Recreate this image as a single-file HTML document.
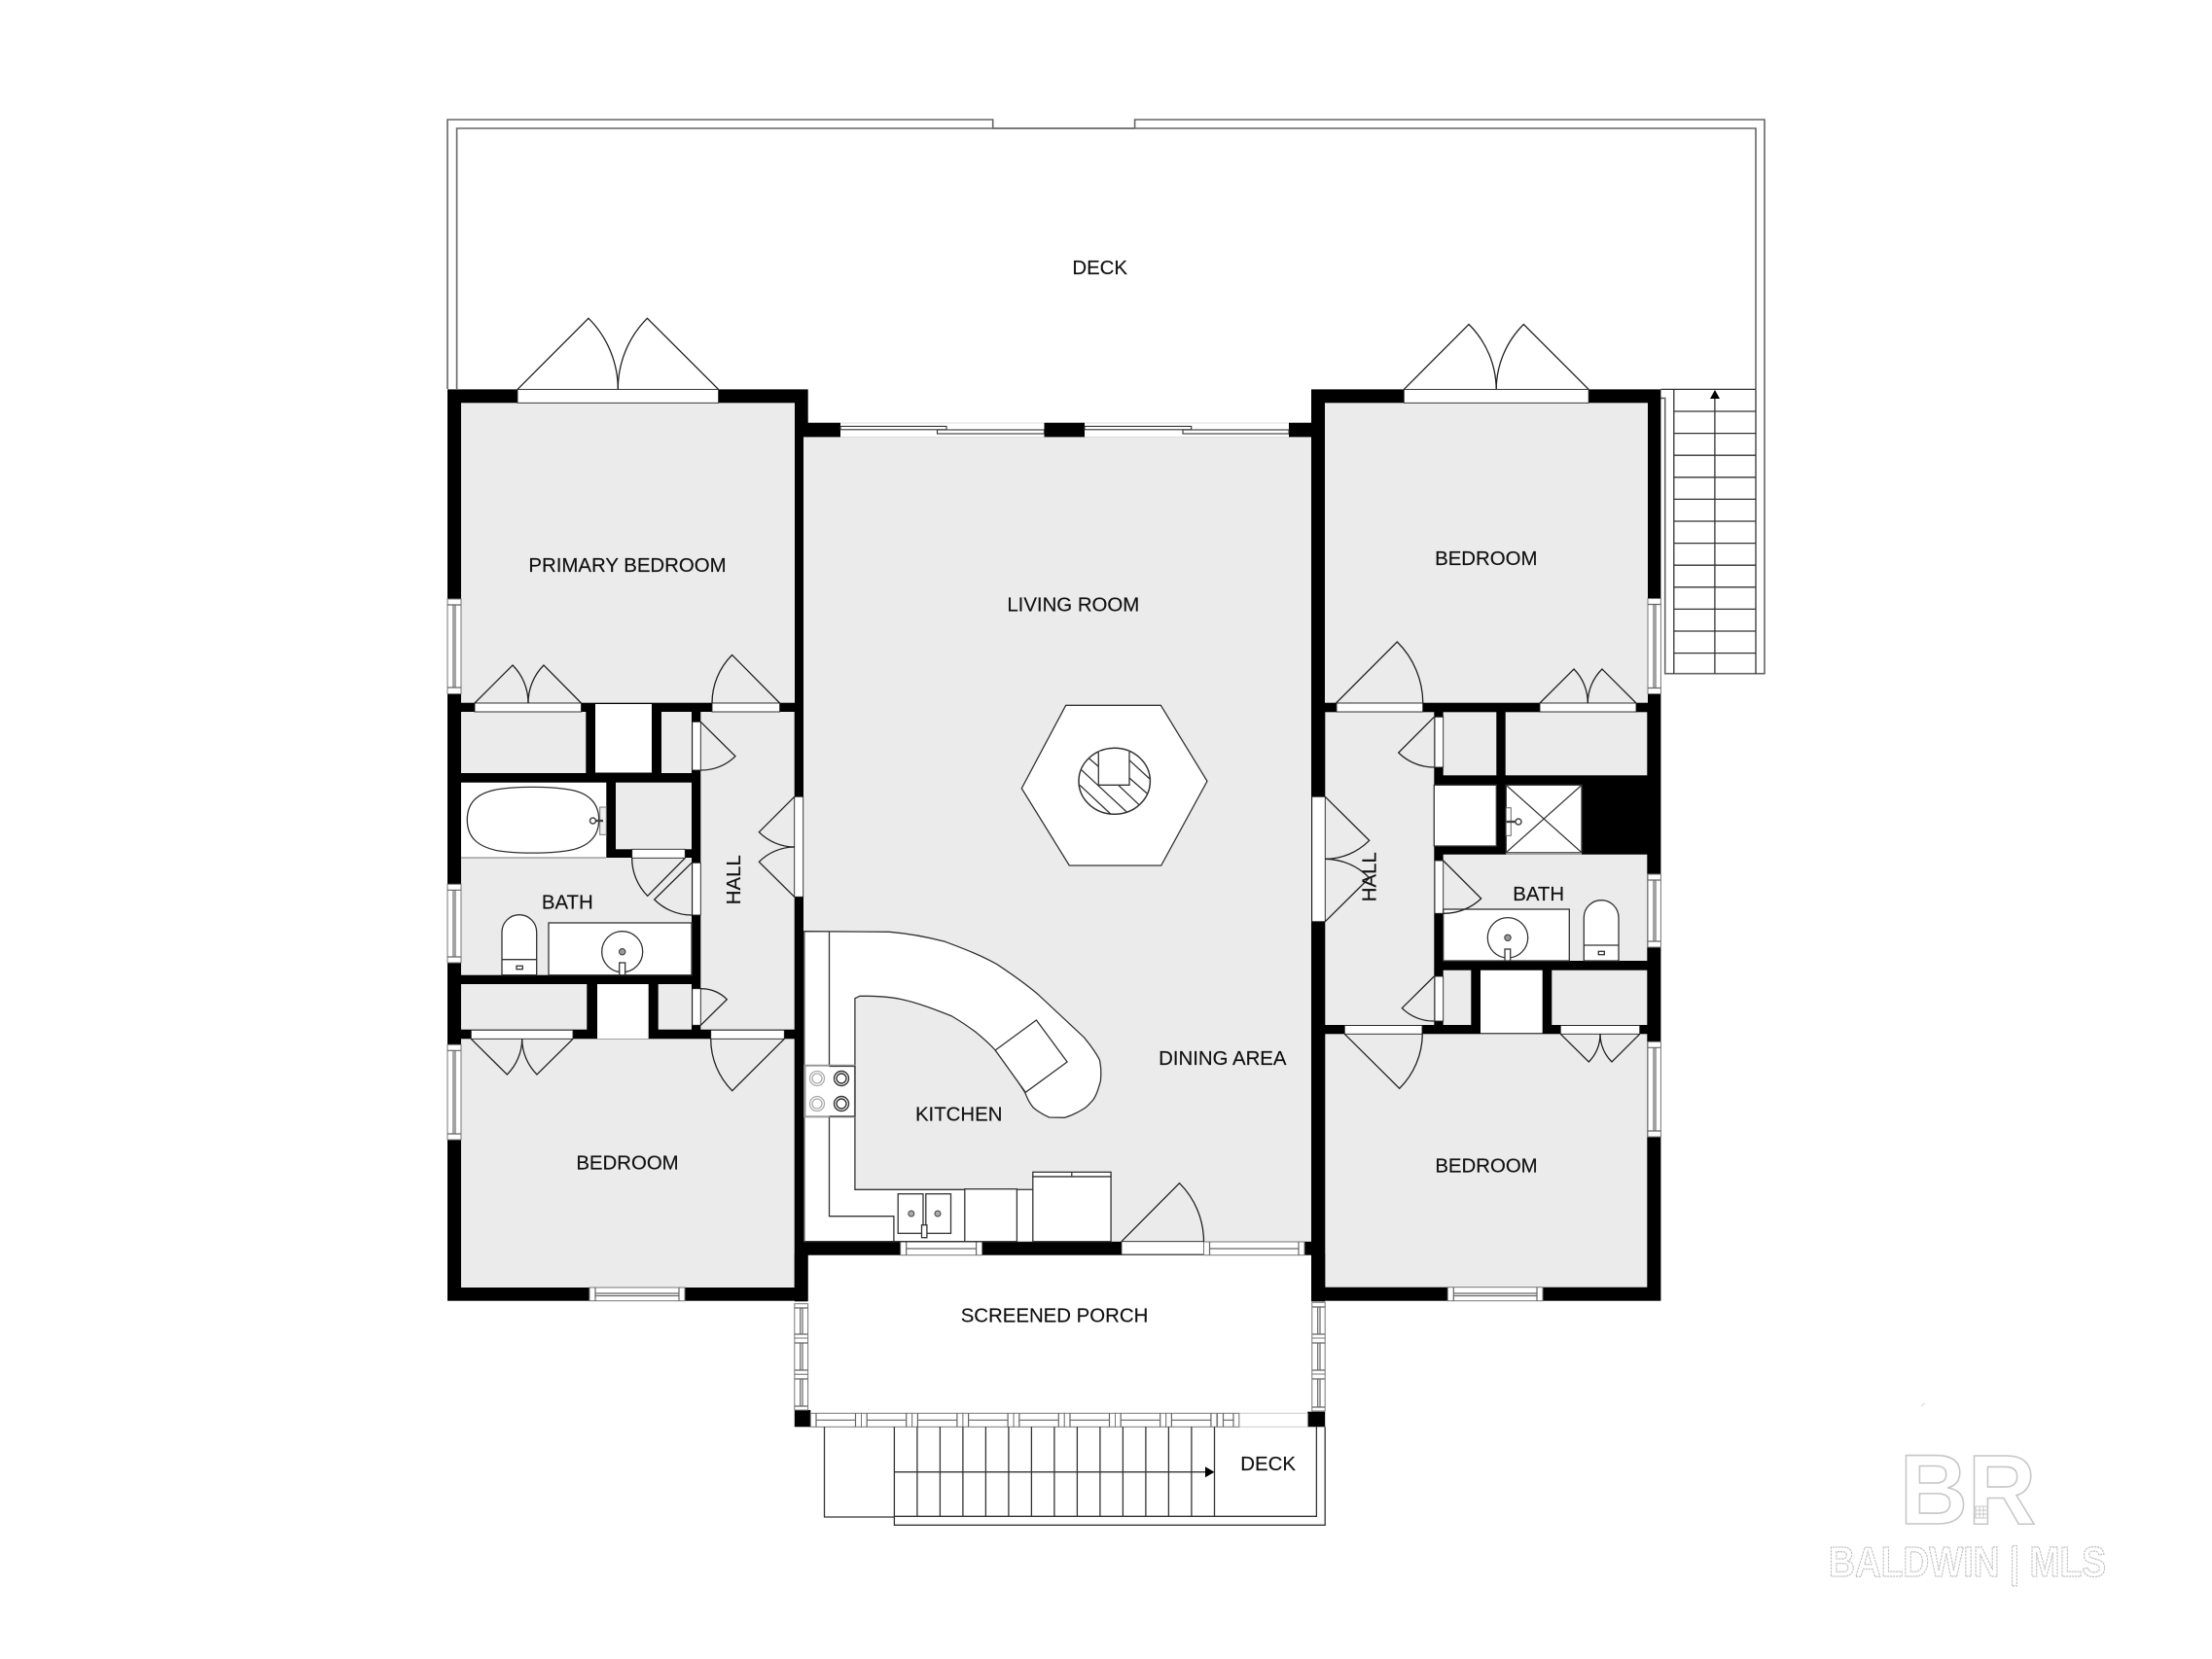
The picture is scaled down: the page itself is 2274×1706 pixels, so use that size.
<!DOCTYPE html>
<html><head><meta charset="utf-8"><title>Floor plan</title>
<style>
html,body{margin:0;padding:0;background:#fff;width:2274px;height:1706px;overflow:hidden}
svg{display:block}
text{font-family:"Liberation Sans",sans-serif;font-size:20.4px;fill:#111;stroke:#111;stroke-width:.15;text-anchor:middle}
.g{fill:#ebebeb}.k{fill:#000}.wh{fill:#fff}
.dw{fill:#fff;stroke:#222;stroke-width:.9}
.d{fill:none;stroke:#222;stroke-width:1.3}
.l{fill:none;stroke:#333;stroke-width:1.3}
.dk{fill:none;stroke:#666;stroke-width:1.6}
.w rect{fill:#fff;stroke:#777;stroke-width:1}
.w path{fill:none;stroke:#666;stroke-width:1.2}
.f{fill:#fff;stroke:#333;stroke-width:1.3}
</style></head><body>
<svg width="2274" height="1706" viewBox="0 0 2274 1706" xmlns="http://www.w3.org/2000/svg">
<rect width="2274" height="1706" fill="#fff"/>

<!-- deck -->
<path class="dk" d="M1020.7 132V123H460V400M469.6 400V132H1805V400"/>
<path class="dk" d="M1020.7 132H1166.6M1166.6 132V123H1814V692.7H1711.7V409.4H1707.4"/>
<path class="l" d="M1720.8 400.4V692.7M1805 400.4V692.7M1762.9 405V692.7M1707.4 400.4H1805M1720.8 423H1805M1720.8 445.6H1805M1720.8 468.2H1805M1720.8 490.8H1805M1720.8 513.4H1805M1720.8 536H1805M1720.8 558.6H1805M1720.8 581.2H1805M1720.8 603.8H1805M1720.8 626.4H1805M1720.8 649H1805M1720.8 671.6H1805"/>
<path class="k" d="M1763 401L1768 410H1758Z"/>

<!-- black masses -->
<rect class="k" x="460" y="400.4" width="370.7" height="937.3"/>
<rect class="k" x="1348" y="400.4" width="359.4" height="937.3"/>
<rect class="k" x="817" y="1276.7" width="545" height="14"/>

<!-- living -->
<rect class="g" x="826" y="449.4" width="522" height="827.3"/>
<rect class="k" x="830" y="434.7" width="34" height="14.7"/>
<rect class="k" x="1073.5" y="434.7" width="41.5" height="14.7"/>
<rect class="k" x="1325" y="434.7" width="23" height="14.7"/>
<path d="M864 435H1073.5M1115 435H1325M864 449.4H1073.5M1115 449.4H1325" stroke="#ddd" stroke-width="1" fill="none"/>
<g fill="#fff" stroke="#333" stroke-width="1.1">
<rect x="864" y="438.4" width="109" height="3.4"/>
<rect x="963.5" y="442" width="110" height="4"/>
<rect x="1115" y="438.4" width="109.7" height="3.4"/>
<rect x="1216" y="442" width="109" height="4"/>
</g>

<!-- left wing rooms -->
<rect class="g" x="474" y="414.3" width="343" height="308.4"/>
<rect class="g" x="474" y="732" width="128.3" height="63"/>
<rect class="wh" x="612" y="724" width="58" height="70.5"/>
<rect class="g" x="680" y="732" width="31" height="63"/>
<rect class="g" x="720.3" y="732" width="96.4" height="326.7"/>
<rect class="wh" x="474" y="804.7" width="149.3" height="77.3"/>
<rect class="g" x="633" y="804.7" width="78" height="68.6"/>
<rect class="g" x="474" y="882" width="237" height="120.7"/>
<rect class="g" x="650" y="873.3" width="54" height="9"/>
<rect class="g" x="474" y="1012" width="129.3" height="46.7"/>
<rect class="wh" x="614" y="1012" width="52.7" height="56"/>
<rect class="g" x="676.7" y="1012" width="34.3" height="46.7"/>
<rect class="g" x="474" y="1068.3" width="342.7" height="255.7"/>

<!-- right wing rooms -->
<rect class="g" x="1362" y="414.3" width="332" height="308.4"/>
<rect class="g" x="1362.3" y="732.3" width="112" height="321.7"/>
<rect class="g" x="1483.7" y="732.3" width="54.6" height="65"/>
<rect class="g" x="1547.7" y="732.3" width="145.6" height="65"/>
<rect class="f" x="1474.3" y="807.3" width="64" height="62.7"/>
<rect class="f" x="1548.3" y="807.3" width="77.7" height="69.4"/>
<path class="l" d="M1548.3 807.3L1626 876.7M1626 807.3L1548.3 876.7"/>
<rect x="1548.3" y="876.7" width="77.7" height="2" fill="#999"/>
<rect class="g" x="1483.7" y="878.7" width="209.6" height="109.3"/>
<rect class="g" x="1483.7" y="997.7" width="28.6" height="56.3"/>
<rect class="wh" x="1522" y="997.7" width="63.7" height="64.6"/>
<rect class="g" x="1595.3" y="997.7" width="98" height="56.3"/>
<rect class="g" x="1362.3" y="1063.3" width="331" height="260.4"/>

<!-- porch columns / corners -->
<rect class="k" x="816.8" y="1290" width="13.8" height="48.3"/>
<rect class="k" x="1348" y="1290" width="14.2" height="48.3"/>
<rect class="k" x="816.8" y="1450" width="16.5" height="17.3"/>
<rect class="k" x="1344.2" y="1451.7" width="18" height="15.6"/>
<rect x="1273.8" y="1453.3" width="70.4" height="14" fill="#fff" stroke="#ccc" stroke-width="1"/>

<!-- door / opening panels -->
<g>
<rect class="dw" x="532" y="400.4" width="206.6" height="13.9"/>
<rect class="dw" x="488" y="723" width="109.5" height="9"/>
<rect class="dw" x="732" y="723" width="69.6" height="9"/>
<rect class="dw" x="711.7" y="742.3" width="8.6" height="49.7"/>
<rect class="dw" x="711.7" y="887.3" width="8.6" height="53.7"/>
<rect class="dw" x="711.7" y="1016.7" width="8.6" height="37.6"/>
<rect class="dw" x="649.7" y="873.3" width="54.6" height="9"/>
<rect class="dw" x="816.7" y="819.3" width="9" height="103"/>
<rect class="dw" x="484.3" y="1059.3" width="104.7" height="9"/>
<rect class="dw" x="730.7" y="1059.3" width="75.6" height="9"/>
<rect class="dw" x="1443.3" y="400.4" width="189.9" height="13.9"/>
<rect class="dw" x="1374" y="723" width="88.7" height="9"/>
<rect class="dw" x="1583" y="723" width="99" height="9"/>
<rect class="dw" x="1475" y="737.3" width="8.7" height="51.7"/>
<rect class="dw" x="1475" y="885" width="8.7" height="54.3"/>
<rect class="dw" x="1475" y="1004" width="8.7" height="46"/>
<rect class="dw" x="1348.7" y="819.3" width="13.6" height="128.4"/>
<rect class="dw" x="1382.3" y="1054.5" width="79.7" height="8.8"/>
<rect class="dw" x="1604.3" y="1054.5" width="81.4" height="8.8"/>
<rect class="dw" x="1152.9" y="1276.7" width="84.6" height="13.3"/>
</g>

<!-- windows -->
<g class="w">
<rect x="460" y="616" width="14" height="97.5"/><path d="M460 622H474M460 707H474M466 622V707M468 622V707"/>
<rect x="460" y="909.3" width="14" height="80.7"/><path d="M460 915.3H474M460 984H474M466 915.3V984M468 915.3V984"/>
<rect x="460" y="1074.3" width="14" height="97.7"/><path d="M460 1080.3H474M460 1166H474M466 1080.3V1166M468 1080.3V1166"/>
<rect x="1694" y="615.5" width="13.4" height="98"/><path d="M1694 621.5H1707.4M1694 707.5H1707.4M1700 621.5V707.5M1702 621.5V707.5"/>
<rect x="1694" y="899" width="13.4" height="75"/><path d="M1694 905H1707.4M1694 968H1707.4M1700 905V968M1702 905V968"/>
<rect x="1694" y="1071.3" width="13.4" height="97.7"/><path d="M1694 1077.3H1707.4M1694 1163H1707.4M1700 1077.3V1163M1702 1077.3V1163"/>
<rect x="816.8" y="1340.7" width="13.8" height="35.3"/><path d="M816.8 1345H830.6M816.8 1372H830.6M822.7 1345V1372M825 1345V1372"/>
<rect x="816.8" y="1376" width="13.8" height="37.3"/><path d="M816.8 1381H830.6M816.8 1409H830.6M822.7 1381V1409M825 1381V1409"/>
<rect x="816.8" y="1413.3" width="13.8" height="36.7"/><path d="M816.8 1418H830.6M816.8 1446H830.6M822.7 1418V1446M825 1418V1446"/>
<rect x="1348.8" y="1339.3" width="13.4" height="36.7"/><path d="M1348.8 1344H1362.2M1348.8 1372H1362.2M1354.7 1344V1372M1357 1344V1372"/>
<rect x="1348.8" y="1376" width="13.4" height="37"/><path d="M1348.8 1381H1362.2M1348.8 1409H1362.2M1354.7 1381V1409M1357 1381V1409"/>
<rect x="1348.8" y="1413" width="13.4" height="38"/><path d="M1348.8 1418H1362.2M1348.8 1447H1362.2M1354.7 1418V1447M1357 1418V1447"/>

<rect x="606" y="1324" width="98" height="13.7"/><path d="M612 1324V1337.7M698 1324V1337.7M612 1330H698M612 1332.5H698"/>
<rect x="1488.3" y="1323.7" width="97.7" height="14"/><path d="M1494.3 1323.7V1337.7M1580 1323.7V1337.7M1494.3 1330H1580M1494.3 1332.5H1580"/>
<rect x="925.7" y="1277" width="83.9" height="13.7"/><path d="M931.7 1277V1290.7M1003.6 1277V1290.7M931.7 1284H1003.6"/>
<rect x="1237.5" y="1277" width="103.5" height="13.7"/><path d="M1243.5 1277V1290.7M1335 1277V1290.7M1243.5 1284H1335"/>
<rect x="833.3" y="1453.3" width="52.2" height="14"/><path d="M839 1453.3V1467.3M879.5 1453.3V1467.3M839 1460.3H879.5"/>
<rect x="885.5" y="1453.3" width="52.2" height="14"/><path d="M891.2 1453.3V1467.3M931.7 1453.3V1467.3M891.2 1460.3H931.7"/>
<rect x="937.7" y="1453.3" width="52.2" height="14"/><path d="M943.4 1453.3V1467.3M983.9 1453.3V1467.3M943.4 1460.3H983.9"/>
<rect x="989.9" y="1453.3" width="52.2" height="14"/><path d="M995.6 1453.3V1467.3M1036.1 1453.3V1467.3M995.6 1460.3H1036.1"/>
<rect x="1042.1" y="1453.3" width="52.2" height="14"/><path d="M1047.8 1453.3V1467.3M1088.3 1453.3V1467.3M1047.8 1460.3H1088.3"/>
<rect x="1094.3" y="1453.3" width="52.2" height="14"/><path d="M1100 1453.3V1467.3M1140.5 1453.3V1467.3M1100 1460.3H1140.5"/>
<rect x="1146.5" y="1453.3" width="52.2" height="14"/><path d="M1152.2 1453.3V1467.3M1192.7 1453.3V1467.3M1152.2 1460.3H1192.7"/>
<rect x="1198.7" y="1453.3" width="52.2" height="14"/><path d="M1204.4 1453.3V1467.3M1244.9 1453.3V1467.3M1204.4 1460.3H1244.9"/>
<rect x="1251.6" y="1453.3" width="22.2" height="14"/><path d="M1257.5 1453.3V1467.3M1268 1453.3V1467.3M1257.5 1460.3H1268"/>
</g>

<!-- left bath fixtures -->
<path d="M474 882H623" stroke="#777" stroke-width="1" fill="none"/>
<path class="f" d="M480.3 843C480.3 822 495 815 510 812C530 808.5 565 808.5 585 812C605 815 615.7 826 615.7 843C615.7 860 605 871 585 874.5C565 878 530 878 510 874.5C495 871 480.3 864 480.3 843Z"/>
<rect x="616.7" y="830" width="6.6" height="28.3" fill="#eee" stroke="#777"/>
<path d="M610 844H620" stroke="#444" stroke-width="2.4"/><circle cx="609.5" cy="844" r="3" fill="#fff" stroke="#444" stroke-width="1.5"/>
<rect class="f" x="564" y="949" width="147" height="53.7"/>
<circle class="f" cx="639.7" cy="978.7" r="21"/>
<circle cx="639.7" cy="978.7" r="3.2" fill="#999" stroke="#333"/>
<rect class="f" x="636.7" y="990" width="6" height="12.7"/>
<path class="f" d="M516 1002.7V958.7A17.85 18 0 0 1 551.7 958.7V1002.7Z"/>
<path class="l" d="M516 986.7H551.7"/>
<rect class="f" x="531" y="993.3" width="6.3" height="3.4"/>

<!-- right bath fixtures -->
<rect x="1548.3" y="830.7" width="5" height="28.6" fill="#fff" stroke="#666"/>
<path d="M1548.5 845H1559" stroke="#444" stroke-width="2.4"/><circle cx="1561" cy="845" r="3" fill="#fff" stroke="#444" stroke-width="1.5"/>
<rect class="f" x="1483.7" y="935" width="129.6" height="53"/>
<circle class="f" cx="1550" cy="964.3" r="20.7"/>
<circle cx="1550" cy="964.3" r="3.2" fill="#999" stroke="#333"/>
<rect class="f" x="1547" y="976" width="5.7" height="12"/>
<path class="f" d="M1628.3 988V943.7A17.85 18 0 0 1 1664 943.7V988Z"/>
<path class="l" d="M1628.3 972H1664"/>
<rect class="f" x="1643.3" y="978.3" width="6" height="3.4"/>

<!-- kitchen -->
<path class="f" d="M826.8 957.7L914.3 958.3C935 960 955 964 971.4 968.3C992 976 1010 983 1025 991.7C1042 1003 1055 1012 1067.9 1023.3L1114.3 1066.7C1122 1076 1127 1083 1130.4 1090C1132 1097 1132 1105 1131.4 1111.7C1129 1120 1127 1127 1123.2 1131.7C1120 1135 1118 1138 1114.3 1140C1108 1144 1102 1147 1094.6 1149.3L1078.6 1149C1072 1146 1067 1143 1062.5 1139.3C1058 1134 1056 1129 1053.6 1123.3C1044 1108 1034 1094 1023.2 1080C1017 1073 1010 1067 1003.6 1061.7C996 1056 987 1050 978.6 1045C961 1038 943 1031 925 1027.3C915 1025 903 1024.5 892.9 1024.3H883.9L878.9 1026.7V1223.3H1061.8V1276.7H826.8Z"/>
<path class="l" d="M852.5 957.7V1250.7H918.9V1276.7"/>
<rect x="827.5" y="1095.7" width="51.4" height="52.6" fill="#fff" stroke="#999" stroke-width="2"/>
<path d="M852.5 1096.5H878.9V1148H852.5" fill="none" stroke="#444" stroke-width="1.3"/>
<g fill="#fff" stroke="#aaa" stroke-width="1.3"><circle cx="840" cy="1109" r="7.5"/><circle cx="840" cy="1109" r="5"/><circle cx="840" cy="1135" r="7.5"/><circle cx="840" cy="1135" r="5"/></g>
<g fill="#fff" stroke="#333" stroke-width="1.4"><circle cx="865" cy="1109" r="7.5"/><circle cx="865" cy="1109" r="5"/><circle cx="865" cy="1135" r="7.5"/><circle cx="865" cy="1135" r="5"/></g>
<path class="f" d="M1065.4 1049L1097.1 1092L1054.3 1123.3L1023.2 1080Z"/>
<rect x="1045.4" y="1223.9" width="16.4" height="52.8" fill="#fff"/>
<rect class="f" x="923.2" y="1227.7" width="25.8" height="40.6"/>
<rect class="f" x="951.8" y="1227.7" width="25.7" height="40.6"/>
<circle cx="936.8" cy="1248" r="3" fill="#aaa" stroke="#444"/><circle cx="964" cy="1248" r="3" fill="#aaa" stroke="#444"/>
<rect class="f" x="947.5" y="1259.7" width="5.4" height="13"/>
<rect class="f" x="991.8" y="1222.7" width="53.6" height="54"/>
<rect class="f" x="1061.8" y="1205.3" width="80.3" height="4.7"/>
<rect class="f" x="1061.8" y="1210" width="80.3" height="66.7"/>
<path class="l" d="M1101.8 1205.3V1210"/>

<!-- doors (above fixtures) -->
<g class="d">
<path d="M532 400.4L605 327.3A103 103 0 0 1 635.3 400.4"/>
<path d="M738.6 400.4L665.4 327.3A103 103 0 0 0 635.3 400.4"/>
<path d="M488 723L527 684A55 55 0 0 1 543 723"/>
<path d="M597.5 723L559 684A55 55 0 0 0 543 723"/>
<path d="M801.6 723L752.6 673.5A70 70 0 0 0 732 723"/>
<path d="M484.3 1068.3L521.3 1105A52 52 0 0 0 536.7 1068.3"/>
<path d="M589 1068.3L552 1105A52 52 0 0 1 536.7 1068.3"/>
<path d="M806.3 1068.3L752.7 1121.7A75.6 75.6 0 0 1 730.7 1068.3"/>
<path d="M720.3 742.3L756 777.7A50 50 0 0 1 720.3 792"/>
<path d="M720.3 1054.3L747.3 1027.7A38 38 0 0 0 720.3 1016.7"/>
<path d="M711 887.3L672.7 925A54 54 0 0 0 711 941"/>
<path d="M704.3 882.3L665.7 921.3A55 55 0 0 1 649.7 882.3"/>
<path d="M816.7 819.3L780.3 855.7A52 52 0 0 0 816.7 871"/>
<path d="M816.7 922.3L780.3 886.3A52 52 0 0 1 816.7 871"/>
<path d="M1152.9 1276.7L1212.5 1216.7A84.6 84.6 0 0 1 1237.5 1276.7"/>
<path d="M1443.3 400.4L1510 333.5A95 95 0 0 1 1538.2 400.4"/>
<path d="M1633.2 400.4L1566.4 333.5A95 95 0 0 0 1538.2 400.4"/>
<path d="M1373.5 723L1436.3 660A89 89 0 0 1 1462.8 723"/>
<path d="M1583 723L1618 688A49.5 49.5 0 0 1 1632.3 723"/>
<path d="M1682 723L1647 688A49.5 49.5 0 0 0 1632.3 723"/>
<path d="M1362.3 819.3L1407.7 864.3A64 64 0 0 1 1362.3 883.3"/>
<path d="M1362.3 947.7L1407.7 902.7A64 64 0 0 0 1362.3 883.3"/>
<path d="M1474.3 737.3L1437.7 774A52 52 0 0 0 1474.3 789"/>
<path d="M1483.7 885L1522.7 924A55 55 0 0 1 1483.7 939.3"/>
<path d="M1474.3 1004L1441.3 1036.7A46 46 0 0 0 1474.3 1050"/>
<path d="M1382.3 1063.3L1438.7 1119.3A80 80 0 0 0 1462.3 1063.3"/>
<path d="M1604.3 1063.3L1633.3 1092A41 41 0 0 0 1645 1063.3"/>
<path d="M1685.7 1063.3L1657 1092A41 41 0 0 1 1645 1063.3"/>
</g>

<!-- fireplace -->
<path class="f" d="M1095.7 725.3H1193.3L1241 803.3L1193.7 890H1099.3L1050.3 810.7Z" stroke-width="1.5"/>
<ellipse cx="1145.7" cy="803.3" rx="36.7" ry="34" fill="#fff" stroke="#333" stroke-width="1.5"/>
<path class="l" d="M1119.7 780L1129.3 788.3M1111.7 791.7L1158.3 835M1110 807.3L1141.7 837M1161 781.7L1182 801M1161 800L1179.3 816M1150 807.7L1170.7 827.3"/>
<rect x="1129.3" y="772.7" width="31.7" height="34.6" fill="#fff"/>
<path class="l" d="M1129.3 772.7V807.3H1161V772.7"/>

<!-- front stairs and deck -->
<path class="l" d="M847.5 1467.3V1560H919.4M919.4 1467.3V1568.3H1362.2V1467.3M919.4 1559.3H1353.4V1467.3"/>
<path class="l" d="M942.9 1467.3V1559.3M966.4 1467.3V1559.3M989.9 1467.3V1559.3M1013.4 1467.3V1559.3M1036.9 1467.3V1559.3M1060.4 1467.3V1559.3M1083.9 1467.3V1559.3M1107.4 1467.3V1559.3M1130.9 1467.3V1559.3M1154.4 1467.3V1559.3M1177.9 1467.3V1559.3M1201.4 1467.3V1559.3M1224.9 1467.3V1559.3M1248.5 1467.3V1559.3M919.4 1513.7H1240"/>
<path class="k" d="M1248.5 1513.7L1239 1508.3V1519.2Z"/>

<!-- labels -->
<text x="1130.7" y="282">DECK</text>
<text x="645" y="588">PRIMARY BEDROOM</text>
<text x="1103.3" y="628.3">LIVING ROOM</text>
<text x="1527.8" y="580.8">BEDROOM</text>
<text x="583.3" y="934.3">BATH</text>
<text x="1581.7" y="926">BATH</text>
<text transform="translate(761 904.7) rotate(-90)" x="0" y="0">HALL</text>
<text transform="translate(1414.6 901.7) rotate(-90)" x="0" y="0">HALL</text>
<text x="645" y="1202.6">BEDROOM</text>
<text x="1528" y="1205.6">BEDROOM</text>
<text x="985.7" y="1152.6">KITCHEN</text>
<text x="1256.8" y="1095">DINING AREA</text>
<text x="1084" y="1359.6">SCREENED PORCH</text>
<text x="1303.6" y="1512">DECK</text>

<!-- watermark -->
<g>
<text x="2023" y="1567" textLength="140" lengthAdjust="spacingAndGlyphs" style="font-size:102px;font-weight:bold;fill:#fff;stroke:#c6c6c6;stroke-width:1.6">BR</text>
<g fill="none" stroke="#c8c8c8" stroke-width="1"><rect x="2031" y="1549" width="12" height="12"/><path d="M2035 1549V1561M2039 1549V1561M2031 1553H2043M2031 1557H2043"/></g>
<text x="2022.5" y="1621" textLength="285" lengthAdjust="spacingAndGlyphs" style="font-size:44px;font-weight:bold;fill:#fff;stroke:#c2c2c2;stroke-width:1.3;stroke-dasharray:2.5 1">BALDWIN | MLS</text>
<path d="M1975 1446L1979 1443" stroke="#ddd" stroke-width="1.2"/>
</g>
</svg>
</body></html>
